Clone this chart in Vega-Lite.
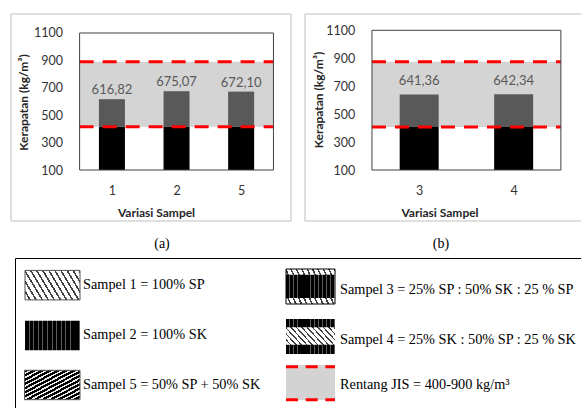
{
"$schema":"https://vega.github.io/schema/vega-lite/v6.json",
"background":"white",
"padding":{"left":9.5,"top":12.5,"right":0,"bottom":0},
"bounds":"full",
"spacing":5.5,
"config":{"font":"Lato"},
"vconcat":[
 {"hconcat":[
  {
   "width":280,"height":207,
   "view":{"stroke":"#bfbfbf","strokeWidth":1},
   "title":{"text":"(a)","orient":"bottom","frame":"group","offset":16,"dx":11.5,"font":"Liberation Serif","fontSize":14,"fontWeight":"normal","color":"#000000"},
   "data":{"values":[
     {"sampel":"1","urutan":1,"kerapatan":616.82,"teks":"616,82"},
     {"sampel":"2","urutan":2,"kerapatan":675.07,"teks":"675,07"},
     {"sampel":"5","urutan":3,"kerapatan":672.10,"teks":"672,10"}]},
   "layer":[
    {"data":{"values":[{"awal":0.5,"akhir":3.5,"bawah":415,"atas":890}]},
     "mark":{"type":"rect","color":"#d4d4d4"},
     "encoding":{
      "x":{"field":"awal","type":"quantitative","scale":{"domain":[-0.4925,3.6866],"nice":false,"zero":false},
           "axis":{"values":[1,2,3],"labelExpr":"['', '1', '2', '5'][datum.value]","offset":-50.5,"domain":false,"ticks":false,"tickSize":0,"grid":false,"labelPadding":14.5,"labelFont":"Lato","labelFontSize":12.5,"labelColor":"#333333","labelFlush":false,"labelOverlap":false,"title":"Variasi Sampel","titleFont":"Lato","titleFontSize":12,"titleFontWeight":"bold","titleColor":"#262626","titleX":145.5,"titleY":37.5,"titleBaseline":"top","titleAlign":"center"}},
      "x2":{"field":"akhir"},
      "y":{"field":"bawah","type":"quantitative","scale":{"domain":[-268.6,1242.3],"nice":false,"zero":false},
           "axis":{"values":[100,300,500,700,900,1100],"format":"d","offset":-66.5,"domain":false,"ticks":false,"tickSize":0,"grid":false,"labelPadding":14.5,"labelFont":"Lato","labelFontSize":12.5,"labelColor":"#333333","labelFlush":false,"labelOverlap":false,"title":"Kerapatan (kg/m³)","titleFont":"Lato","titleFontSize":12,"titleFontWeight":"bold","titleColor":"#262626","titleX":-54,"titleY":88.5,"titleBaseline":"middle","titleAngle":-90,"titleAlign":"center"}},
      "y2":{"field":"atas"}}},
    {"mark":{"type":"bar","width":26,"color":"#000000"},
     "encoding":{"x":{"field":"urutan","type":"quantitative"},"y":{"datum":100,"type":"quantitative"},"y2":{"datum":415}}},
    {"mark":{"type":"bar","width":26,"color":"#595959"},
     "encoding":{"x":{"field":"urutan","type":"quantitative"},"y":{"field":"kerapatan","type":"quantitative"},"y2":{"datum":415}}},
    {"data":{"values":[{"awal":0.5,"akhir":3.5,"batas":415},{"awal":0.5,"akhir":3.5,"batas":890}]},
     "mark":{"type":"rule","color":"#ff0000","strokeWidth":3,"strokeDash":[14,9]},
     "encoding":{"x":{"field":"awal","type":"quantitative"},"x2":{"field":"akhir"},"y":{"field":"batas","type":"quantitative"}}},
    {"data":{"values":[{"awal":0.5,"akhir":3.5,"bawah":100,"atas":1100}]},
     "mark":{"type":"rect","fill":"transparent","stroke":"#404040","strokeWidth":1},
     "encoding":{"x":{"field":"awal","type":"quantitative"},"x2":{"field":"akhir"},"y":{"field":"bawah","type":"quantitative"},"y2":{"field":"atas"}}},
    {"mark":{"type":"text","dy":-5,"baseline":"alphabetic","font":"Lato","fontSize":13,"color":"#595959"},
     "encoding":{"x":{"field":"urutan","type":"quantitative"},"y":{"field":"kerapatan","type":"quantitative"},"text":{"field":"teks"}}}
   ]
  },
  {
   "width":277,"height":207,
   "view":{"stroke":"#bfbfbf","strokeWidth":1},
   "title":{"text":"(b)","orient":"bottom","frame":"group","offset":16,"dx":-2,"font":"Liberation Serif","fontSize":14,"fontWeight":"normal","color":"#000000"},
   "data":{"values":[
     {"sampel":"3","urutan":1,"kerapatan":641.36,"teks":"641,36"},
     {"sampel":"4","urutan":2,"kerapatan":642.34,"teks":"642,34"}]},
   "layer":[
    {"data":{"values":[{"awal":0.5,"akhir":2.5,"bawah":408,"atas":875}]},
     "mark":{"type":"rect","color":"#d4d4d4"},
     "encoding":{
      "x":{"field":"awal","type":"quantitative","scale":{"domain":[-0.1612,2.6653],"nice":false,"zero":false},
           "axis":{"values":[1,2],"labelExpr":"['', '3', '4'][datum.value]","offset":-50.5,"domain":false,"ticks":false,"tickSize":0,"grid":false,"labelPadding":14.5,"labelFont":"Lato","labelFontSize":12.5,"labelColor":"#333333","labelFlush":false,"labelOverlap":false,"title":"Variasi Sampel","titleFont":"Lato","titleFontSize":12,"titleFontWeight":"bold","titleColor":"#262626","titleX":135,"titleY":37.5,"titleBaseline":"top","titleAlign":"center"}},
      "x2":{"field":"akhir"},
      "y":{"field":"bawah","type":"quantitative","scale":{"domain":[-261.5,1220.3],"nice":false,"zero":false},
           "axis":{"values":[100,300,500,700,900,1100],"format":"d","offset":-64.8,"domain":false,"ticks":false,"tickSize":0,"grid":false,"labelPadding":14.5,"labelFont":"Lato","labelFontSize":12.5,"labelColor":"#333333","labelFlush":false,"labelOverlap":false,"title":"Kerapatan (kg/m³)","titleFont":"Lato","titleFontSize":12,"titleFontWeight":"bold","titleColor":"#262626","titleX":-50.8,"titleY":86,"titleBaseline":"middle","titleAngle":-90,"titleAlign":"center"}},
      "y2":{"field":"atas"}}},
    {"mark":{"type":"bar","width":39,"color":"#000000"},
     "encoding":{"x":{"field":"urutan","type":"quantitative"},"y":{"datum":100,"type":"quantitative"},"y2":{"datum":408}}},
    {"mark":{"type":"bar","width":39,"color":"#595959"},
     "encoding":{"x":{"field":"urutan","type":"quantitative"},"y":{"field":"kerapatan","type":"quantitative"},"y2":{"datum":408}}},
    {"data":{"values":[{"awal":0.5,"akhir":2.5,"batas":408},{"awal":0.5,"akhir":2.5,"batas":875}]},
     "mark":{"type":"rule","color":"#ff0000","strokeWidth":3,"strokeDash":[14,9]},
     "encoding":{"x":{"field":"awal","type":"quantitative"},"x2":{"field":"akhir"},"y":{"field":"batas","type":"quantitative"}}},
    {"data":{"values":[{"awal":0.5,"akhir":2.5,"bawah":100,"atas":1100}]},
     "mark":{"type":"rect","fill":"transparent","stroke":"#404040","strokeWidth":1},
     "encoding":{"x":{"field":"awal","type":"quantitative"},"x2":{"field":"akhir"},"y":{"field":"bawah","type":"quantitative"},"y2":{"field":"atas"}}},
    {"mark":{"type":"text","dy":-9.5,"baseline":"alphabetic","font":"Lato","fontSize":13,"color":"#595959"},
     "encoding":{"x":{"field":"urutan","type":"quantitative"},"y":{"field":"kerapatan","type":"quantitative"},"text":{"field":"teks"}}}
   ]
  }
 ],"spacing":14,"bounds":"flush"},
 {
  "width":571.5,"height":152.5,
  "view":{"stroke":null},
  "data":{"values":[
   {"id":"s1","kolom":"kiri","baris":"r1","label":"Sampel 1 = 100% SP"},
   {"id":"s2","kolom":"kiri","baris":"r2","label":"Sampel 2 = 100% SK"},
   {"id":"s5","kolom":"kiri","baris":"r3","label":"Sampel 5 = 50% SP + 50% SK"},
   {"id":"s3","kolom":"kanan","baris":"r1","label":"Sampel 3 = 25% SP : 50% SK : 25 % SP"},
   {"id":"s4","kolom":"kanan","baris":"r2","label":"Sampel 4 = 25% SK : 50% SP : 25 % SK"},
   {"id":"jis","kolom":"kanan","baris":"r3","label":"Rentang JIS = 400-900 kg/m³"}]},
  "encoding":{
   "x":{"field":"kolom","type":"nominal","scale":{"type":"point","domain":["kiri","kanan"],"padding":0.6076,"align":0.134},"axis":null},
   "y":{"field":"baris","type":"nominal","scale":{"type":"point","domain":["r1","r2","r3"],"padding":0.53,"align":0.5189},"axis":null}},
  "resolve":{"scale":{"x":"independent","y":"independent"}},
  "layer":[
   {"transform":[{"filter":"datum.id == 's1'"}],
    "mark":{"type":"rect","stroke":"#555555","strokeWidth":1,"xOffset":-27.5,"x2Offset":27.5,"yOffset":-15,"y2Offset":14.5,
      "fill":{"gradient":"linear","x1":-0.292,"y1":0.094,"x2":0.906,"y2":-0.292,"stops":[
      {"offset":0,"color":"#ffffff"},{"offset":0.0583,"color":"#ffffff"},{"offset":0.0583,"color":"#404040"},{"offset":0.0833,"color":"#404040"},
      {"offset":0.0833,"color":"#ffffff"},{"offset":0.1417,"color":"#ffffff"},{"offset":0.1417,"color":"#404040"},{"offset":0.1667,"color":"#404040"},
      {"offset":0.1667,"color":"#ffffff"},{"offset":0.225,"color":"#ffffff"},{"offset":0.225,"color":"#404040"},{"offset":0.25,"color":"#404040"},
      {"offset":0.25,"color":"#ffffff"},{"offset":0.3083,"color":"#ffffff"},{"offset":0.3083,"color":"#404040"},{"offset":0.3333,"color":"#404040"},
      {"offset":0.3333,"color":"#ffffff"},{"offset":0.3917,"color":"#ffffff"},{"offset":0.3917,"color":"#404040"},{"offset":0.4167,"color":"#404040"},
      {"offset":0.4167,"color":"#ffffff"},{"offset":0.475,"color":"#ffffff"},{"offset":0.475,"color":"#404040"},{"offset":0.5,"color":"#404040"},
      {"offset":0.5,"color":"#ffffff"},{"offset":0.5583,"color":"#ffffff"},{"offset":0.5583,"color":"#404040"},{"offset":0.5833,"color":"#404040"},
      {"offset":0.5833,"color":"#ffffff"},{"offset":0.6417,"color":"#ffffff"},{"offset":0.6417,"color":"#404040"},{"offset":0.6667,"color":"#404040"},
      {"offset":0.6667,"color":"#ffffff"},{"offset":0.725,"color":"#ffffff"},{"offset":0.725,"color":"#404040"},{"offset":0.75,"color":"#404040"},
      {"offset":0.75,"color":"#ffffff"},{"offset":0.8083,"color":"#ffffff"},{"offset":0.8083,"color":"#404040"},{"offset":0.8333,"color":"#404040"},
      {"offset":0.8333,"color":"#ffffff"},{"offset":0.8917,"color":"#ffffff"},{"offset":0.8917,"color":"#404040"},{"offset":0.9167,"color":"#404040"},
      {"offset":0.9167,"color":"#ffffff"},{"offset":0.975,"color":"#ffffff"},{"offset":0.975,"color":"#404040"},{"offset":1,"color":"#404040"}]}},
    "encoding":{"x2":{"field":"kolom"},"y2":{"field":"baris"}}},
   {"transform":[{"filter":"datum.id == 's2'"}],
    "mark":{"type":"rect","xOffset":-27.5,"x2Offset":27.5,"yOffset":-14.5,"y2Offset":15,
      "fill":{"gradient":"linear","x1":0,"y1":0,"x2":1,"y2":0,"stops":[
      {"offset":0,"color":"#000000"},{"offset":0.0667,"color":"#000000"},{"offset":0.0667,"color":"#5a5a5a"},{"offset":0.0833,"color":"#5a5a5a"},
      {"offset":0.0833,"color":"#000000"},{"offset":0.15,"color":"#000000"},{"offset":0.15,"color":"#5a5a5a"},{"offset":0.1667,"color":"#5a5a5a"},
      {"offset":0.1667,"color":"#000000"},{"offset":0.2333,"color":"#000000"},{"offset":0.2333,"color":"#5a5a5a"},{"offset":0.25,"color":"#5a5a5a"},
      {"offset":0.25,"color":"#000000"},{"offset":0.3167,"color":"#000000"},{"offset":0.3167,"color":"#5a5a5a"},{"offset":0.3333,"color":"#5a5a5a"},
      {"offset":0.3333,"color":"#000000"},{"offset":0.4,"color":"#000000"},{"offset":0.4,"color":"#5a5a5a"},{"offset":0.4167,"color":"#5a5a5a"},
      {"offset":0.4167,"color":"#000000"},{"offset":0.4833,"color":"#000000"},{"offset":0.4833,"color":"#5a5a5a"},{"offset":0.5,"color":"#5a5a5a"},
      {"offset":0.5,"color":"#000000"},{"offset":0.5667,"color":"#000000"},{"offset":0.5667,"color":"#5a5a5a"},{"offset":0.5833,"color":"#5a5a5a"},
      {"offset":0.5833,"color":"#000000"},{"offset":0.65,"color":"#000000"},{"offset":0.65,"color":"#5a5a5a"},{"offset":0.6667,"color":"#5a5a5a"},
      {"offset":0.6667,"color":"#000000"},{"offset":0.7333,"color":"#000000"},{"offset":0.7333,"color":"#5a5a5a"},{"offset":0.75,"color":"#5a5a5a"},
      {"offset":0.75,"color":"#000000"},{"offset":0.8167,"color":"#000000"},{"offset":0.8167,"color":"#5a5a5a"},{"offset":0.8333,"color":"#5a5a5a"},
      {"offset":0.8333,"color":"#000000"},{"offset":0.9,"color":"#000000"},{"offset":0.9,"color":"#5a5a5a"},{"offset":0.9167,"color":"#5a5a5a"},
      {"offset":0.9167,"color":"#000000"},{"offset":0.9833,"color":"#000000"},{"offset":0.9833,"color":"#5a5a5a"},{"offset":1,"color":"#5a5a5a"}]}},
    "encoding":{"x2":{"field":"kolom"},"y2":{"field":"baris"}}},
   {"transform":[{"filter":"datum.id == 's5'"}],
    "mark":{"type":"rect","stroke":"#555555","strokeWidth":1,"xOffset":-28,"x2Offset":27.5,"yOffset":-14.8,"y2Offset":14.6,
      "fill":{"gradient":"linear","x1":0,"y1":0,"x2":1,"y2":1,"stops":[
      {"offset":0,"color":"#000000"},{"offset":0.0429,"color":"#000000"},{"offset":0.0429,"color":"#e8e8e8"},{"offset":0.0714,"color":"#e8e8e8"},
      {"offset":0.0714,"color":"#000000"},{"offset":0.1143,"color":"#000000"},{"offset":0.1143,"color":"#e8e8e8"},{"offset":0.1429,"color":"#e8e8e8"},
      {"offset":0.1429,"color":"#000000"},{"offset":0.1857,"color":"#000000"},{"offset":0.1857,"color":"#e8e8e8"},{"offset":0.2143,"color":"#e8e8e8"},
      {"offset":0.2143,"color":"#000000"},{"offset":0.2571,"color":"#000000"},{"offset":0.2571,"color":"#e8e8e8"},{"offset":0.2857,"color":"#e8e8e8"},
      {"offset":0.2857,"color":"#000000"},{"offset":0.3286,"color":"#000000"},{"offset":0.3286,"color":"#e8e8e8"},{"offset":0.3571,"color":"#e8e8e8"},
      {"offset":0.3571,"color":"#000000"},{"offset":0.4,"color":"#000000"},{"offset":0.4,"color":"#e8e8e8"},{"offset":0.4286,"color":"#e8e8e8"},
      {"offset":0.4286,"color":"#000000"},{"offset":0.4714,"color":"#000000"},{"offset":0.4714,"color":"#e8e8e8"},{"offset":0.5,"color":"#e8e8e8"},
      {"offset":0.5,"color":"#000000"},{"offset":0.5429,"color":"#000000"},{"offset":0.5429,"color":"#e8e8e8"},{"offset":0.5714,"color":"#e8e8e8"},
      {"offset":0.5714,"color":"#000000"},{"offset":0.6143,"color":"#000000"},{"offset":0.6143,"color":"#e8e8e8"},{"offset":0.6429,"color":"#e8e8e8"},
      {"offset":0.6429,"color":"#000000"},{"offset":0.6857,"color":"#000000"},{"offset":0.6857,"color":"#e8e8e8"},{"offset":0.7143,"color":"#e8e8e8"},
      {"offset":0.7143,"color":"#000000"},{"offset":0.7571,"color":"#000000"},{"offset":0.7571,"color":"#e8e8e8"},{"offset":0.7857,"color":"#e8e8e8"},
      {"offset":0.7857,"color":"#000000"},{"offset":0.8286,"color":"#000000"},{"offset":0.8286,"color":"#e8e8e8"},{"offset":0.8571,"color":"#e8e8e8"},
      {"offset":0.8571,"color":"#000000"},{"offset":0.9,"color":"#000000"},{"offset":0.9,"color":"#e8e8e8"},{"offset":0.9286,"color":"#e8e8e8"},
      {"offset":0.9286,"color":"#000000"},{"offset":0.9714,"color":"#000000"},{"offset":0.9714,"color":"#e8e8e8"},{"offset":1,"color":"#e8e8e8"}]}},
    "encoding":{"x2":{"field":"kolom"},"y2":{"field":"baris"}}},
   {"transform":[{"filter":"datum.id == 's3'"}],
    "mark":{"type":"rect","stroke":"#000000","strokeWidth":1,"xOffset":-24.5,"x2Offset":24.5,"yOffset":-16.4,"y2Offset":18.6,
      "fill":{"gradient":"linear","x1":-0.292,"y1":0.094,"x2":0.906,"y2":-0.292,"stops":[
      {"offset":0,"color":"#ffffff"},{"offset":0.0583,"color":"#ffffff"},{"offset":0.0583,"color":"#404040"},{"offset":0.0833,"color":"#404040"},
      {"offset":0.0833,"color":"#ffffff"},{"offset":0.1417,"color":"#ffffff"},{"offset":0.1417,"color":"#404040"},{"offset":0.1667,"color":"#404040"},
      {"offset":0.1667,"color":"#ffffff"},{"offset":0.225,"color":"#ffffff"},{"offset":0.225,"color":"#404040"},{"offset":0.25,"color":"#404040"},
      {"offset":0.25,"color":"#ffffff"},{"offset":0.3083,"color":"#ffffff"},{"offset":0.3083,"color":"#404040"},{"offset":0.3333,"color":"#404040"},
      {"offset":0.3333,"color":"#ffffff"},{"offset":0.3917,"color":"#ffffff"},{"offset":0.3917,"color":"#404040"},{"offset":0.4167,"color":"#404040"},
      {"offset":0.4167,"color":"#ffffff"},{"offset":0.475,"color":"#ffffff"},{"offset":0.475,"color":"#404040"},{"offset":0.5,"color":"#404040"},
      {"offset":0.5,"color":"#ffffff"},{"offset":0.5583,"color":"#ffffff"},{"offset":0.5583,"color":"#404040"},{"offset":0.5833,"color":"#404040"},
      {"offset":0.5833,"color":"#ffffff"},{"offset":0.6417,"color":"#ffffff"},{"offset":0.6417,"color":"#404040"},{"offset":0.6667,"color":"#404040"},
      {"offset":0.6667,"color":"#ffffff"},{"offset":0.725,"color":"#ffffff"},{"offset":0.725,"color":"#404040"},{"offset":0.75,"color":"#404040"},
      {"offset":0.75,"color":"#ffffff"},{"offset":0.8083,"color":"#ffffff"},{"offset":0.8083,"color":"#404040"},{"offset":0.8333,"color":"#404040"},
      {"offset":0.8333,"color":"#ffffff"},{"offset":0.8917,"color":"#ffffff"},{"offset":0.8917,"color":"#404040"},{"offset":0.9167,"color":"#404040"},
      {"offset":0.9167,"color":"#ffffff"},{"offset":0.975,"color":"#ffffff"},{"offset":0.975,"color":"#404040"},{"offset":1,"color":"#404040"}]}},
    "encoding":{"x2":{"field":"kolom"},"y2":{"field":"baris"}}},
   {"transform":[{"filter":"datum.id == 's3'"}],
    "mark":{"type":"rect","xOffset":-24.5,"x2Offset":24.5,"yOffset":-10.7,"y2Offset":12.6,
      "fill":{"gradient":"linear","x1":0,"y1":0,"x2":1,"y2":0,"stops":[
      {"offset":0,"color":"#000000"},{"offset":0.0667,"color":"#000000"},{"offset":0.0667,"color":"#5a5a5a"},{"offset":0.0833,"color":"#5a5a5a"},
      {"offset":0.0833,"color":"#000000"},{"offset":0.15,"color":"#000000"},{"offset":0.15,"color":"#5a5a5a"},{"offset":0.1667,"color":"#5a5a5a"},
      {"offset":0.1667,"color":"#000000"},{"offset":0.2333,"color":"#000000"},{"offset":0.2333,"color":"#5a5a5a"},{"offset":0.25,"color":"#5a5a5a"},
      {"offset":0.25,"color":"#000000"},{"offset":0.3167,"color":"#000000"},{"offset":0.3167,"color":"#5a5a5a"},{"offset":0.3333,"color":"#5a5a5a"},
      {"offset":0.3333,"color":"#000000"},{"offset":0.4,"color":"#000000"},{"offset":0.4,"color":"#5a5a5a"},{"offset":0.4167,"color":"#5a5a5a"},
      {"offset":0.4167,"color":"#000000"},{"offset":0.4833,"color":"#000000"},{"offset":0.4833,"color":"#5a5a5a"},{"offset":0.5,"color":"#5a5a5a"},
      {"offset":0.5,"color":"#000000"},{"offset":0.5667,"color":"#000000"},{"offset":0.5667,"color":"#5a5a5a"},{"offset":0.5833,"color":"#5a5a5a"},
      {"offset":0.5833,"color":"#000000"},{"offset":0.65,"color":"#000000"},{"offset":0.65,"color":"#5a5a5a"},{"offset":0.6667,"color":"#5a5a5a"},
      {"offset":0.6667,"color":"#000000"},{"offset":0.7333,"color":"#000000"},{"offset":0.7333,"color":"#5a5a5a"},{"offset":0.75,"color":"#5a5a5a"},
      {"offset":0.75,"color":"#000000"},{"offset":0.8167,"color":"#000000"},{"offset":0.8167,"color":"#5a5a5a"},{"offset":0.8333,"color":"#5a5a5a"},
      {"offset":0.8333,"color":"#000000"},{"offset":0.9,"color":"#000000"},{"offset":0.9,"color":"#5a5a5a"},{"offset":0.9167,"color":"#5a5a5a"},
      {"offset":0.9167,"color":"#000000"},{"offset":0.9833,"color":"#000000"},{"offset":0.9833,"color":"#5a5a5a"},{"offset":1,"color":"#5a5a5a"}]}},
    "encoding":{"x2":{"field":"kolom"},"y2":{"field":"baris"}}},
   {"transform":[{"filter":"datum.id == 's4'"}],
    "mark":{"type":"rect","xOffset":-24.5,"x2Offset":24.5,"yOffset":-16.2,"y2Offset":18.8,
      "fill":{"gradient":"linear","x1":0,"y1":0,"x2":1,"y2":0,"stops":[
      {"offset":0,"color":"#000000"},{"offset":0.0667,"color":"#000000"},{"offset":0.0667,"color":"#5a5a5a"},{"offset":0.0833,"color":"#5a5a5a"},
      {"offset":0.0833,"color":"#000000"},{"offset":0.15,"color":"#000000"},{"offset":0.15,"color":"#5a5a5a"},{"offset":0.1667,"color":"#5a5a5a"},
      {"offset":0.1667,"color":"#000000"},{"offset":0.2333,"color":"#000000"},{"offset":0.2333,"color":"#5a5a5a"},{"offset":0.25,"color":"#5a5a5a"},
      {"offset":0.25,"color":"#000000"},{"offset":0.3167,"color":"#000000"},{"offset":0.3167,"color":"#5a5a5a"},{"offset":0.3333,"color":"#5a5a5a"},
      {"offset":0.3333,"color":"#000000"},{"offset":0.4,"color":"#000000"},{"offset":0.4,"color":"#5a5a5a"},{"offset":0.4167,"color":"#5a5a5a"},
      {"offset":0.4167,"color":"#000000"},{"offset":0.4833,"color":"#000000"},{"offset":0.4833,"color":"#5a5a5a"},{"offset":0.5,"color":"#5a5a5a"},
      {"offset":0.5,"color":"#000000"},{"offset":0.5667,"color":"#000000"},{"offset":0.5667,"color":"#5a5a5a"},{"offset":0.5833,"color":"#5a5a5a"},
      {"offset":0.5833,"color":"#000000"},{"offset":0.65,"color":"#000000"},{"offset":0.65,"color":"#5a5a5a"},{"offset":0.6667,"color":"#5a5a5a"},
      {"offset":0.6667,"color":"#000000"},{"offset":0.7333,"color":"#000000"},{"offset":0.7333,"color":"#5a5a5a"},{"offset":0.75,"color":"#5a5a5a"},
      {"offset":0.75,"color":"#000000"},{"offset":0.8167,"color":"#000000"},{"offset":0.8167,"color":"#5a5a5a"},{"offset":0.8333,"color":"#5a5a5a"},
      {"offset":0.8333,"color":"#000000"},{"offset":0.9,"color":"#000000"},{"offset":0.9,"color":"#5a5a5a"},{"offset":0.9167,"color":"#5a5a5a"},
      {"offset":0.9167,"color":"#000000"},{"offset":0.9833,"color":"#000000"},{"offset":0.9833,"color":"#5a5a5a"},{"offset":1,"color":"#5a5a5a"}]}},
    "encoding":{"x2":{"field":"kolom"},"y2":{"field":"baris"}}},
   {"transform":[{"filter":"datum.id == 's4'"}],
    "mark":{"type":"rect","xOffset":-24.5,"x2Offset":24.5,"yOffset":-7.9,"y2Offset":9.5,
      "fill":{"gradient":"linear","x1":-0.292,"y1":0.094,"x2":0.906,"y2":-0.292,"stops":[
      {"offset":0,"color":"#ffffff"},{"offset":0.0583,"color":"#ffffff"},{"offset":0.0583,"color":"#404040"},{"offset":0.0833,"color":"#404040"},
      {"offset":0.0833,"color":"#ffffff"},{"offset":0.1417,"color":"#ffffff"},{"offset":0.1417,"color":"#404040"},{"offset":0.1667,"color":"#404040"},
      {"offset":0.1667,"color":"#ffffff"},{"offset":0.225,"color":"#ffffff"},{"offset":0.225,"color":"#404040"},{"offset":0.25,"color":"#404040"},
      {"offset":0.25,"color":"#ffffff"},{"offset":0.3083,"color":"#ffffff"},{"offset":0.3083,"color":"#404040"},{"offset":0.3333,"color":"#404040"},
      {"offset":0.3333,"color":"#ffffff"},{"offset":0.3917,"color":"#ffffff"},{"offset":0.3917,"color":"#404040"},{"offset":0.4167,"color":"#404040"},
      {"offset":0.4167,"color":"#ffffff"},{"offset":0.475,"color":"#ffffff"},{"offset":0.475,"color":"#404040"},{"offset":0.5,"color":"#404040"},
      {"offset":0.5,"color":"#ffffff"},{"offset":0.5583,"color":"#ffffff"},{"offset":0.5583,"color":"#404040"},{"offset":0.5833,"color":"#404040"},
      {"offset":0.5833,"color":"#ffffff"},{"offset":0.6417,"color":"#ffffff"},{"offset":0.6417,"color":"#404040"},{"offset":0.6667,"color":"#404040"},
      {"offset":0.6667,"color":"#ffffff"},{"offset":0.725,"color":"#ffffff"},{"offset":0.725,"color":"#404040"},{"offset":0.75,"color":"#404040"},
      {"offset":0.75,"color":"#ffffff"},{"offset":0.8083,"color":"#ffffff"},{"offset":0.8083,"color":"#404040"},{"offset":0.8333,"color":"#404040"},
      {"offset":0.8333,"color":"#ffffff"},{"offset":0.8917,"color":"#ffffff"},{"offset":0.8917,"color":"#404040"},{"offset":0.9167,"color":"#404040"},
      {"offset":0.9167,"color":"#ffffff"},{"offset":0.975,"color":"#ffffff"},{"offset":0.975,"color":"#404040"},{"offset":1,"color":"#404040"}]}},
    "encoding":{"x2":{"field":"kolom"},"y2":{"field":"baris"}}},
   {"transform":[{"filter":"datum.id == 'jis'"}],
    "mark":{"type":"rect","color":"#d3d3d3","xOffset":-24.5,"x2Offset":24.5,"yOffset":-20.1,"y2Offset":14.9},
    "encoding":{"x2":{"field":"kolom"},"y2":{"field":"baris"}}},
   {"transform":[{"filter":"datum.id == 'jis'"}],
    "mark":{"type":"rule","color":"#ff0000","strokeWidth":3,"strokeDash":[12,7.7],"xOffset":-24.5,"x2Offset":24.5,"yOffset":-18.4},
    "encoding":{"x2":{"field":"kolom"}}},
   {"transform":[{"filter":"datum.id == 'jis'"}],
    "mark":{"type":"rule","color":"#ff0000","strokeWidth":3,"strokeDash":[12,7.7],"xOffset":-24.5,"x2Offset":24.5,"yOffset":14.6},
    "encoding":{"x2":{"field":"kolom"}}},
   {"transform":[{"filter":"datum.kolom == 'kiri'"}],
    "mark":{"type":"text","align":"left","baseline":"middle","dx":30.5,"font":"Liberation Serif","fontSize":14.3,"color":"#000000"},
    "encoding":{"text":{"field":"label"}}},
   {"transform":[{"filter":"datum.id == 's3' || datum.id == 's4'"}],
    "mark":{"type":"text","align":"left","baseline":"middle","dx":29.5,"dy":5,"font":"Liberation Serif","fontSize":14.3,"color":"#000000"},
    "encoding":{"text":{"field":"label"}}},
   {"transform":[{"filter":"datum.id == 'jis'"}],
    "mark":{"type":"text","align":"left","baseline":"middle","dx":29.5,"font":"Liberation Serif","fontSize":14.3,"color":"#000000"},
    "encoding":{"text":{"field":"label"}}},
   {"data":{"values":[{"kiri":0,"kanan":566.5,"atas":152}]},
    "mark":{"type":"rule","color":"#000000","strokeWidth":1},
    "encoding":{
     "x":{"field":"kiri","type":"quantitative","scale":{"domain":[-5,566.5],"nice":false,"zero":false},"axis":null},
     "x2":{"field":"kanan"},
     "y":{"field":"atas","type":"quantitative","scale":{"domain":[0,152.5],"nice":false,"zero":false},"axis":null}}},
   {"data":{"values":[{"kiri":0,"bawah":0,"atas":152}]},
    "mark":{"type":"rule","color":"#000000","strokeWidth":1},
    "encoding":{
     "x":{"field":"kiri","type":"quantitative","scale":{"domain":[-5,566.5],"nice":false,"zero":false},"axis":null},
     "y":{"field":"bawah","type":"quantitative","scale":{"domain":[0,152.5],"nice":false,"zero":false},"axis":null},
     "y2":{"field":"atas"}}}
  ]
 }
]
}
